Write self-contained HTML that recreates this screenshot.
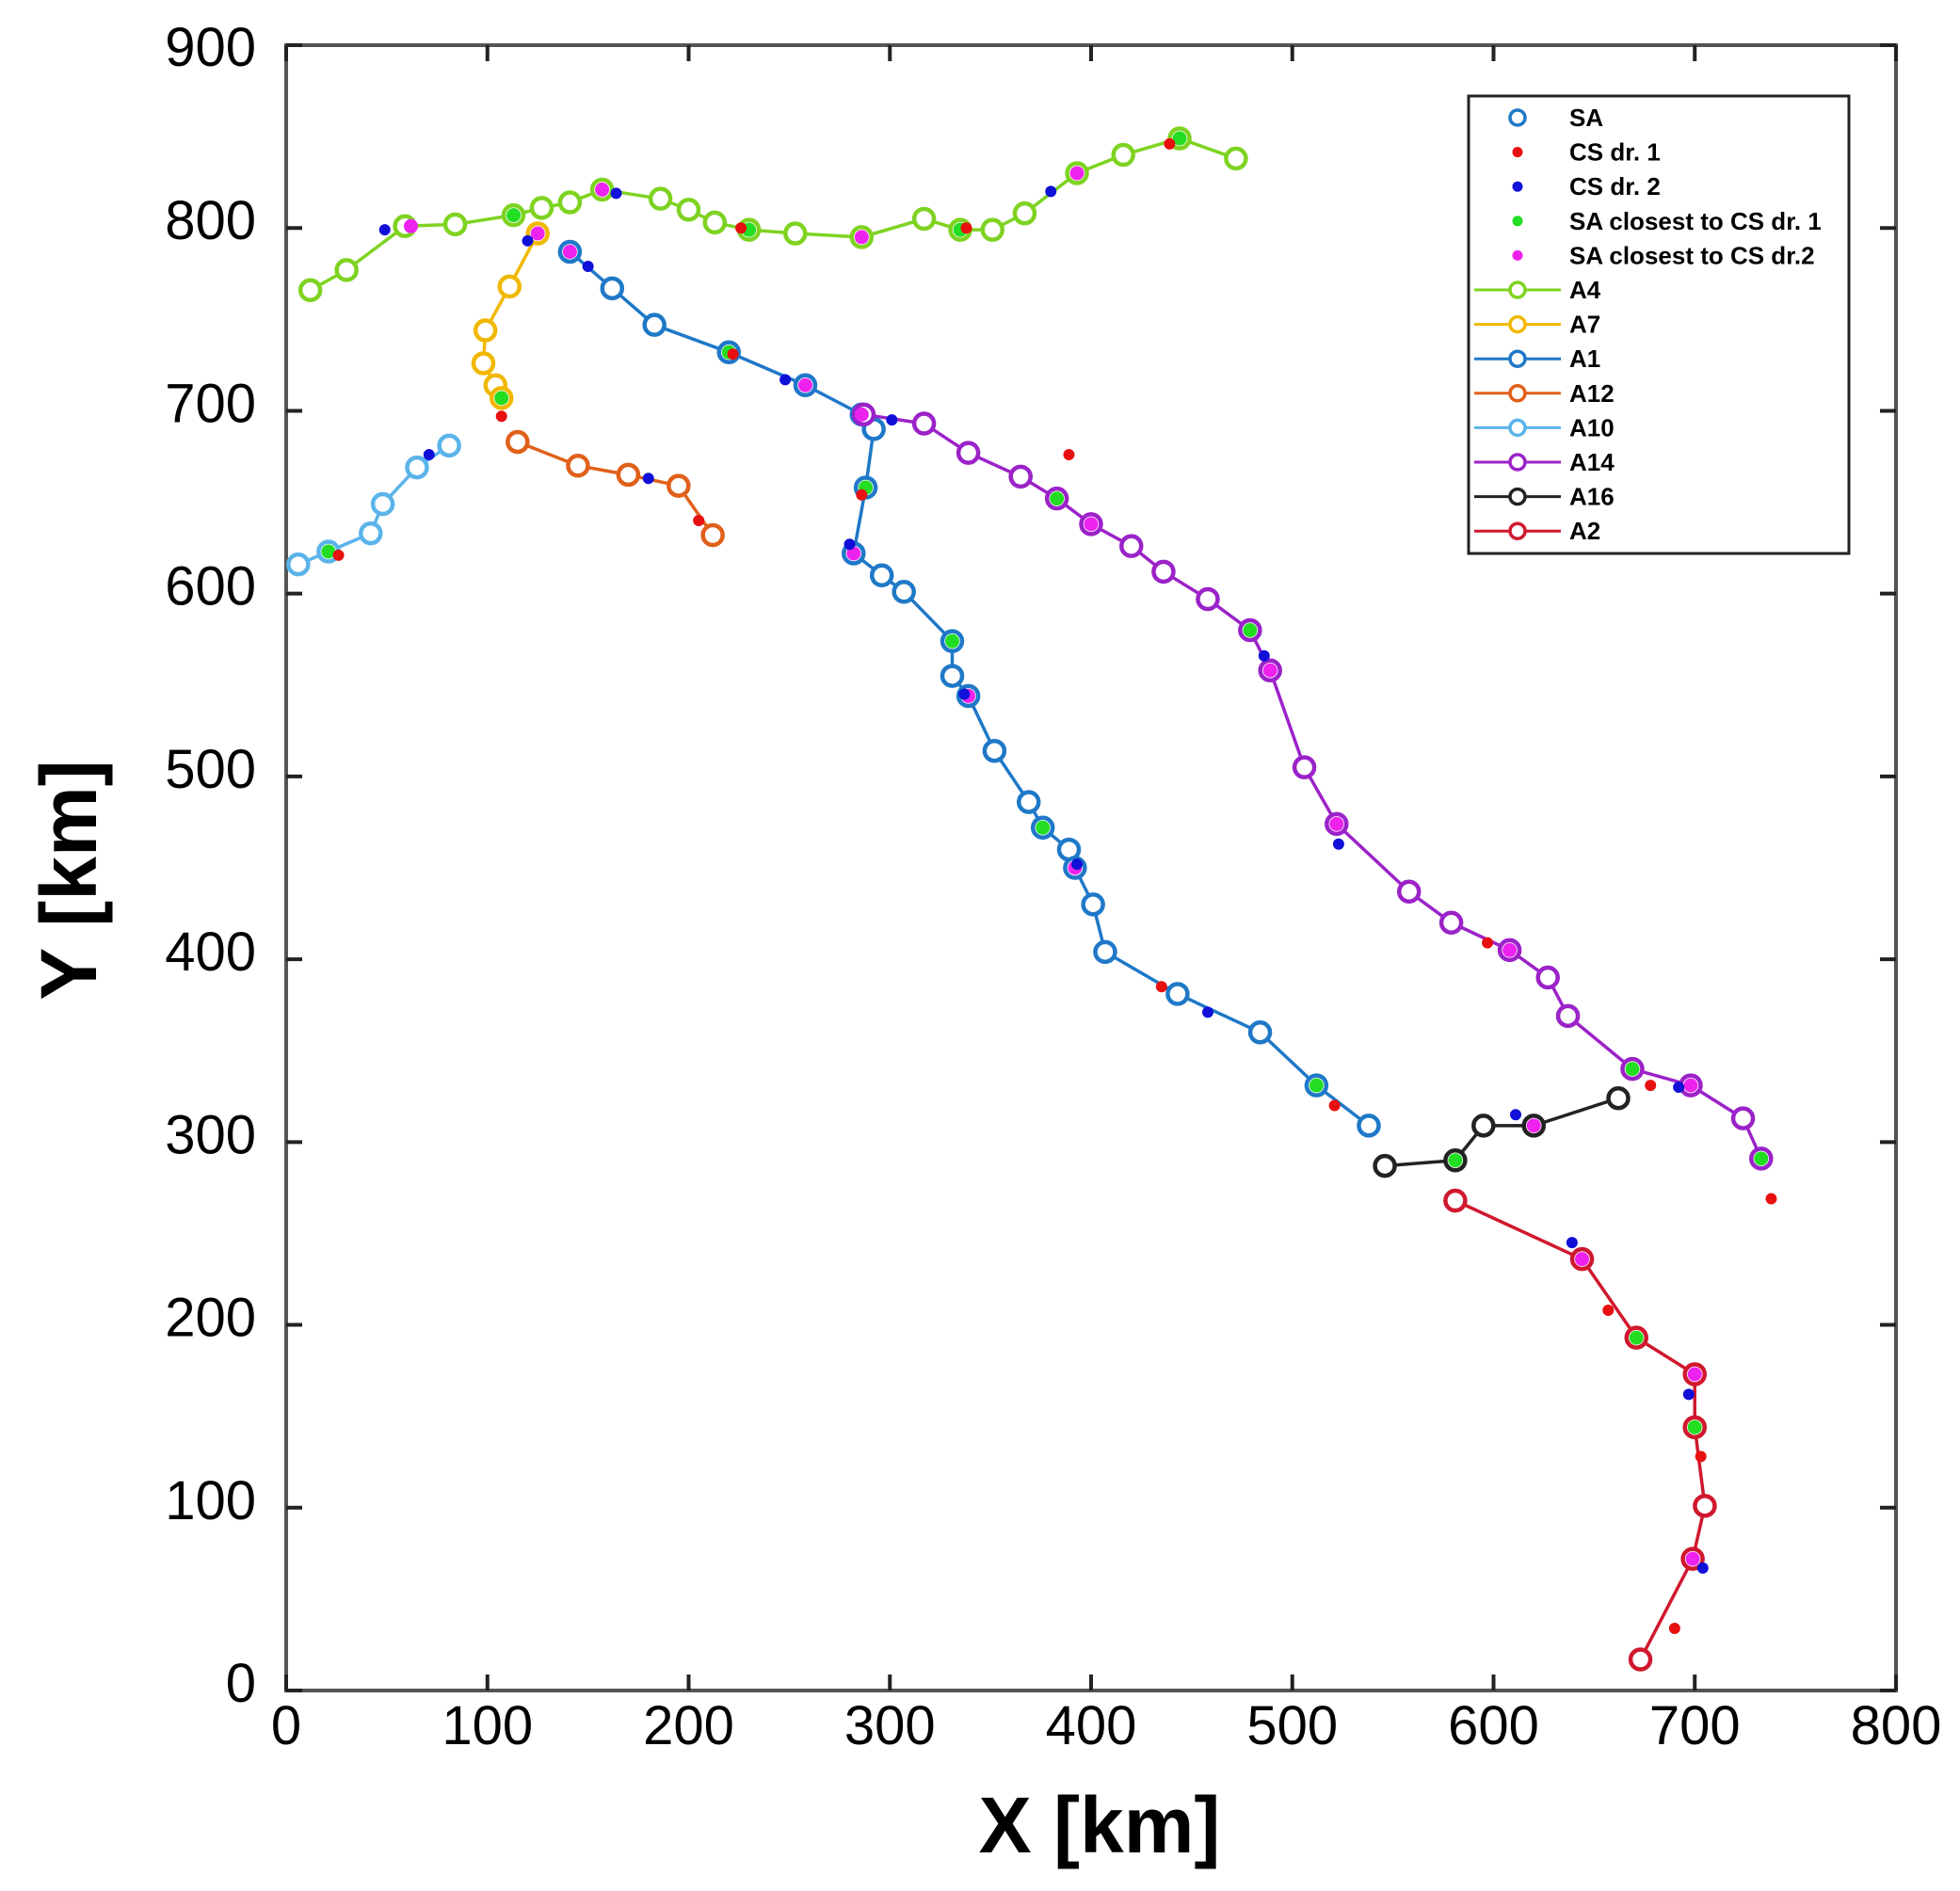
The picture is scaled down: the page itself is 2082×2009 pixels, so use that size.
<!DOCTYPE html>
<html><head><meta charset="utf-8"><style>
html,body{margin:0;padding:0;background:#fff;}
svg text{font-family:"Liberation Sans",sans-serif;}
</style></head><body>
<svg id="chart" width="2082" height="2004" xmlns="http://www.w3.org/2000/svg">
<rect x="0" y="0" width="2082" height="2004" fill="#fff"/>
<g id="axes"></g><g id="series"></g><g id="legend"></g>
<text x="1168" y="1968" font-size="84" font-weight="bold" text-anchor="middle">X [km]</text>
<text transform="translate(102,935) rotate(-90)" font-size="84" font-weight="bold" text-anchor="middle">Y [km]</text>
</svg>
<script>
const xTicks=[0,100,200,300,400,500,600,700,800];
const yTicks=[0,100,200,300,400,500,600,700,800,900];
const seriesNames=["A4","A7","A1","A12","A10","A14","A16","A2"];
const seriesColors=["#7ed321","#f0b800","#1f78c8","#e0601a","#5ab4ea","#9b22c8","#222222","#d0182e"];
const A4x=[12,30,59,84,113,127,141,157,186,200,213,230,253,286,317,335,351,367,393,416,444,472];
const A4y=[766,777,801,802,807,811,814,821,816,810,803,799,797,795,805,799,799,808,830,840,849,838];
const A7x=[125,111,99,98,104,107];
const A7y=[797,768,744,726,714,707];
const A1x=[141,162,183,220,258,286,292,288,282,296,307,331,331,339,352,369,376,389,392,401,407,443,484,512,538];
const A1y=[787,767,747,732,714,698,690,658,622,610,601,574,555,544,514,486,472,460,450,430,404,381,360,331,309];
const A12x=[115,145,170,195,212];
const A12y=[683,670,665,659,632];
const A10x=[6,21,42,48,65,81];
const A10y=[616,623,633,649,669,681];
const A14x=[287,317,339,365,383,400,420,436,458,479,489,506,522,558,579,608,627,637,669,698,724,733];
const A14y=[698,693,677,664,652,638,626,612,597,580,558,505,474,437,420,405,390,369,340,331,313,291];
const A16x=[546,581,595,620,662];
const A16y=[287,290,309,309,324];
const A2x=[581,644,671,700,700,705,699,673];
const A2y=[268,236,193,173,144,101,72,17];
const cs1x=[26,107,205,226,338,439,389,286,435,521,597,657,678,738,703,690,222];
const cs1y=[621,697,640,800,800,846,676,654,385,320,409,208,331,269,128,34,731];
const cs2x=[49,71,120,164,150,180,248,301,280,380,458,486,523,611,639,692,697,704,393,337];
const cs2y=[799,676,793,819,779,663,717,695,627,820,371,566,463,315,245,330,162,67,452,545];
const g1x=[21,107,113,220,288,331,376,383,479,512,581,669,733,671,700,444,335,230];
const g1y=[623,707,807,732,658,574,472,652,580,331,290,340,291,193,144,849,799,799];
const g2x=[62,157,125,141,258,286,282,286,393,522,489,608,644,700,699,698,620,400,339,392];
const g2y=[801,821,797,787,714,698,622,795,830,474,558,405,236,173,72,331,309,638,544,450];

const X0=304,X1=2014,Y0=1796,Y1=48;
const sx=v=>X0+(X1-X0)*v/800, sy=v=>Y0-(Y0-Y1)*v/900;
const NS="http://www.w3.org/2000/svg";
function mk(tag,parent,attrs){const e=document.createElementNS(NS,tag);for(const k in attrs)e.setAttribute(k,attrs[k]);parent.appendChild(e);return e;}
const axes=document.getElementById('axes');
const frame=mk('rect',axes,{x:X0,y:Y1,width:X1-X0,height:Y0-Y1,fill:'none',stroke:'#555',"stroke-width":4});


xTicks.forEach(t=>{
  const l=mk('line',axes,{x1:sx(t),x2:sx(t),y1:Y0,y2:Y0-17,stroke:'#222',"stroke-width":4});
  
  
  mk('line',axes,{x1:sx(t),x2:sx(t),y1:Y1,y2:Y1+17,stroke:'#222',"stroke-width":4});
  const tx=mk('text',axes,{x:sx(t),y:1853,"font-size":58,"text-anchor":"middle"});tx.textContent=t;
  
  
});
yTicks.forEach(t=>{
  const l=mk('line',axes,{x1:X0,x2:X0+17,y1:sy(t),y2:sy(t),stroke:'#222',"stroke-width":4});
  
  
  mk('line',axes,{x1:X1,x2:X1-17,y1:sy(t),y2:sy(t),stroke:'#222',"stroke-width":4});
  const tx=mk('text',axes,{x:272,y:sy(t)+12+(t===900?10:0),"font-size":58,"text-anchor":"end"});tx.textContent=t;
  
  
});
const ser=document.getElementById('series');
const allX=[A4x,A7x,A1x,A12x,A10x,A14x,A16x,A2x], allY=[A4y,A7y,A1y,A12y,A10y,A14y,A16y,A2y];
allX.forEach((xs,i)=>{
  const g=mk('g',ser,{});
  
  
  const pts=xs.map((x,j)=>sx(x)+','+sy(allY[i][j])).join(' ');
  mk('polyline',g,{points:pts,fill:'none',stroke:seriesColors[i],"stroke-width":3.5});
  xs.forEach((x,j)=>{
    const c=mk('circle',g,{cx:sx(x),cy:sy(allY[i][j]),r:10.5,fill:'#fff',stroke:seriesColors[i],"stroke-width":4.5});
    
    
  });
});
function dots(xs,ys,col,r,name){
  xs.forEach((x,j)=>{
    const c=mk('circle',ser,{cx:sx(x),cy:sy(ys[j]),r:r,fill:col});
    
    
  });
}
dots(g1x,g1y,'#22dd22',7.5,'sa-closest-cs1');
dots(g2x,g2y,'#ee22ee',7.5,'sa-closest-cs2');
dots(cs1x,cs1y,'#e81010',6,'cs-dr1-marker');
dots(cs2x,cs2y,'#1010d8',6,'cs-dr2-marker');

// legend
const lg=document.getElementById('legend');
const box=mk('rect',lg,{x:1560,y:102,width:404,height:486,fill:'#fff',stroke:'#222',"stroke-width":3});


const legLabels=["SA","CS dr. 1","CS dr. 2","SA closest to CS dr. 1","SA closest to CS dr.2"].concat(seriesNames);
legLabels.forEach((lab,i)=>{
  const y=125+i*36.6, cx=1612;
  const g=mk('g',lg,{});
  
  
  if(i===0) mk('circle',g,{cx:cx,cy:y,r:8,fill:'#fff',stroke:'#1f78c8',"stroke-width":3.5});
  else if(i===1) mk('circle',g,{cx:cx,cy:y,r:5.5,fill:'#e81010'});
  else if(i===2) mk('circle',g,{cx:cx,cy:y,r:5.5,fill:'#1010d8'});
  else if(i===3) mk('circle',g,{cx:cx,cy:y,r:5.5,fill:'#22dd22'});
  else if(i===4) mk('circle',g,{cx:cx,cy:y,r:5.5,fill:'#ee22ee'});
  else {const col=seriesColors[i-5];
    mk('line',g,{x1:1566,x2:1658,y1:y,y2:y,stroke:col,"stroke-width":3});
    mk('circle',g,{cx:cx,cy:y,r:8,fill:'#fff',stroke:col,"stroke-width":3.5});}
  const t=mk('text',g,{x:1667,y:y+9,"font-size":26,"font-weight":"bold"});t.textContent=lab;
});
</script>
</body></html>
